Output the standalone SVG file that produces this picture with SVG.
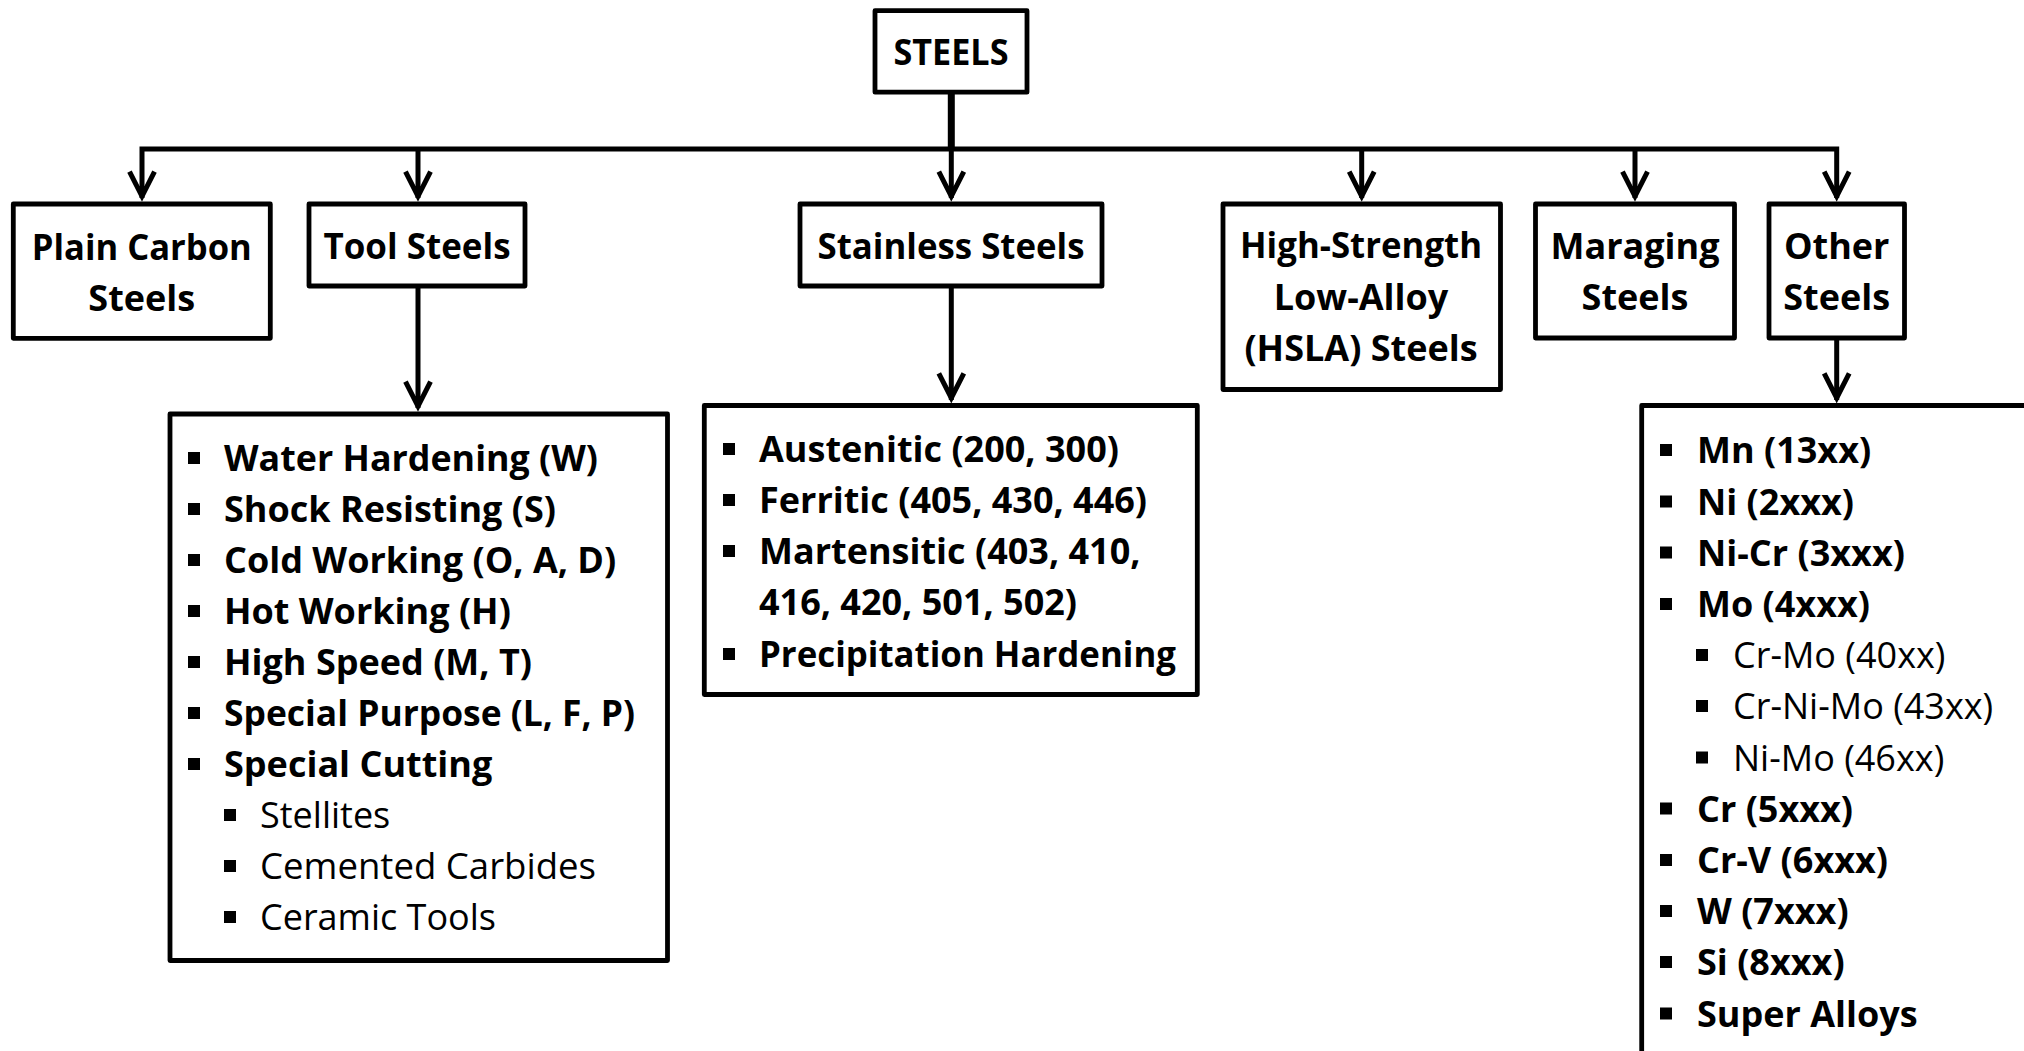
<svg xmlns="http://www.w3.org/2000/svg" xmlns:xlink="http://www.w3.org/1999/xlink" width="2024" height="1051" viewBox="0 0 2024 1051">
<style>
.box{fill:#fff;stroke:#000;stroke-width:4.8;stroke-linejoin:round}
.t{font-family:"Open Sans","Noto Sans","Liberation Sans",sans-serif;font-size:36px;fill:#000}
.b{font-weight:bold}
.r{font-weight:normal}
.c{text-anchor:middle}
.ln{stroke:#000;stroke-width:5;fill:none}
.bul{fill:#000}
</style>
<defs>
<g id="ah">
<path d="M-12.5,-30 L0,-5.4 L12.5,-30" fill="none" stroke="#000" stroke-width="5" stroke-linejoin="miter"/>
<path d="M0,-2 L-8,-19 L0,-14 L8,-19 Z" fill="#000"/>
</g>
<rect id="sq" width="12" height="12"/>
</defs>
<rect width="2024" height="1051" fill="#fff"/>

<g id="connectors">
<line x1="951.3" y1="92" x2="951.3" y2="149" stroke="#000" stroke-width="7"/>
<path class="ln" d="M142,198 V149 H1836.7 V198" stroke-width="5.5" stroke-linejoin="miter"/>
<line class="ln" x1="418" y1="149" x2="418" y2="198"/>
<line class="ln" x1="951.3" y1="149" x2="951.3" y2="198"/>
<line class="ln" x1="1361.7" y1="149" x2="1361.7" y2="198"/>
<line class="ln" x1="1635" y1="149" x2="1635" y2="198"/>
<use xlink:href="#ah" x="142" y="201.7"/>
<use xlink:href="#ah" x="418" y="201.7"/>
<use xlink:href="#ah" x="951.3" y="201.7"/>
<use xlink:href="#ah" x="1361.7" y="201.7"/>
<use xlink:href="#ah" x="1635" y="201.7"/>
<use xlink:href="#ah" x="1836.7" y="201.7"/>
<line class="ln" x1="418" y1="286" x2="418" y2="408"/>
<use xlink:href="#ah" x="418" y="411.7"/>
<line class="ln" x1="951.3" y1="286" x2="951.3" y2="400"/>
<use xlink:href="#ah" x="951.3" y="403.3"/>
<line class="ln" x1="1836.7" y1="338" x2="1836.7" y2="400"/>
<use xlink:href="#ah" x="1836.7" y="403.3"/>
</g>

<g id="steels">
<rect class="box" x="875" y="10.7" width="152" height="81.5"/>
<text class="t b c" x="951" y="65" textLength="115" lengthAdjust="spacingAndGlyphs">STEELS</text>
</g>

<g id="plain-carbon">
<rect class="box" x="13.3" y="204" width="257" height="134.3"/>
<text class="t b c" x="141.8" y="259.5" textLength="220" lengthAdjust="spacingAndGlyphs">Plain Carbon</text>
<text class="t b c" x="141.8" y="310.5">Steels</text>
</g>

<g id="tool-steels">
<rect class="box" x="309" y="204" width="216" height="82"/>
<text class="t b c" x="417" y="259" textLength="187" lengthAdjust="spacingAndGlyphs">Tool Steels</text>
</g>

<g id="stainless-steels">
<rect class="box" x="800" y="204" width="302" height="82"/>
<text class="t b c" x="951" y="258.5" textLength="267" lengthAdjust="spacingAndGlyphs">Stainless Steels</text>
</g>

<g id="hsla">
<rect class="box" x="1223" y="204" width="277.5" height="185.5"/>
<text class="t b c" x="1361" y="258.3" textLength="242" lengthAdjust="spacingAndGlyphs">High-Strength</text>
<text class="t b c" x="1361" y="309.5">Low-Alloy</text>
<text class="t b c" x="1361" y="360.7">(HSLA) Steels</text>
</g>

<g id="maraging">
<rect class="box" x="1535.5" y="204" width="199" height="134"/>
<text class="t b c" x="1635" y="258.5">Maraging</text>
<text class="t b c" x="1635" y="309.7">Steels</text>
</g>

<g id="other-steels">
<rect class="box" x="1769" y="204" width="135.5" height="134"/>
<text class="t b c" x="1836.7" y="258.5">Other</text>
<text class="t b c" x="1836.7" y="309.7">Steels</text>
</g>

<g id="tool-list">
<rect class="box" x="170" y="414" width="497.5" height="546.5"/>
<g class="bul">
<use xlink:href="#sq" x="188" y="452"/>
<use xlink:href="#sq" x="188" y="503"/>
<use xlink:href="#sq" x="188" y="554"/>
<use xlink:href="#sq" x="188" y="605"/>
<use xlink:href="#sq" x="188" y="656"/>
<use xlink:href="#sq" x="188" y="707"/>
<use xlink:href="#sq" x="188" y="758"/>
<use xlink:href="#sq" x="224" y="809"/>
<use xlink:href="#sq" x="224" y="860"/>
<use xlink:href="#sq" x="224" y="911"/>
</g>
<text class="t b" x="224" y="471" textLength="374" lengthAdjust="spacingAndGlyphs">Water Hardening (W)</text>
<text class="t b" x="224" y="522">Shock Resisting (S)</text>
<text class="t b" x="224" y="573">Cold Working (O, A, D)</text>
<text class="t b" x="224" y="624">Hot Working (H)</text>
<text class="t b" x="224" y="675">High Speed (M, T)</text>
<text class="t b" x="224" y="726" textLength="411" lengthAdjust="spacingAndGlyphs">Special Purpose (L, F, P)</text>
<text class="t b" x="224" y="777">Special Cutting</text>
<text class="t r" x="260" y="828">Stellites</text>
<text class="t r" x="260" y="879" textLength="336" lengthAdjust="spacingAndGlyphs">Cemented Carbides</text>
<text class="t r" x="260" y="930">Ceramic Tools</text>
</g>

<g id="stainless-list">
<rect class="box" x="704.3" y="405.5" width="493" height="289"/>
<g class="bul">
<use xlink:href="#sq" x="723" y="443"/>
<use xlink:href="#sq" x="723" y="494"/>
<use xlink:href="#sq" x="723" y="545"/>
<use xlink:href="#sq" x="723" y="648"/>
</g>
<text class="t b" x="759" y="461.7">Austenitic (200, 300)</text>
<text class="t b" x="759" y="512.9">Ferritic (405, 430, 446)</text>
<text class="t b" x="759" y="564.1">Martensitic (403, 410,</text>
<text class="t b" x="759" y="615.3">416, 420, 501, 502)</text>
<text class="t b" x="759" y="666.5" textLength="417" lengthAdjust="spacingAndGlyphs">Precipitation Hardening</text>
</g>

<g id="other-list">
<rect class="box" x="1641.7" y="405.5" width="500" height="700"/>
<g class="bul">
<use xlink:href="#sq" x="1660" y="444"/>
<use xlink:href="#sq" x="1660" y="495.5"/>
<use xlink:href="#sq" x="1660" y="546.5"/>
<use xlink:href="#sq" x="1660" y="598"/>
<use xlink:href="#sq" x="1696" y="649"/>
<use xlink:href="#sq" x="1696" y="700"/>
<use xlink:href="#sq" x="1696" y="751.5"/>
<use xlink:href="#sq" x="1660" y="802.5"/>
<use xlink:href="#sq" x="1660" y="854"/>
<use xlink:href="#sq" x="1660" y="905"/>
<use xlink:href="#sq" x="1660" y="956"/>
<use xlink:href="#sq" x="1660" y="1007.5"/>
</g>
<text class="t b" x="1697" y="463.3">Mn (13xx)</text>
<text class="t b" x="1697" y="514.5">Ni (2xxx)</text>
<text class="t b" x="1697" y="565.7">Ni-Cr (3xxx)</text>
<text class="t b" x="1697" y="616.9">Mo (4xxx)</text>
<text class="t r" x="1733" y="668.1">Cr-Mo (40xx)</text>
<text class="t r" x="1733" y="719.3">Cr-Ni-Mo (43xx)</text>
<text class="t r" x="1733" y="770.5">Ni-Mo (46xx)</text>
<text class="t b" x="1697" y="821.7">Cr (5xxx)</text>
<text class="t b" x="1697" y="872.9">Cr-V (6xxx)</text>
<text class="t b" x="1697" y="924.1">W (7xxx)</text>
<text class="t b" x="1697" y="975.3">Si (8xxx)</text>
<text class="t b" x="1697" y="1026.5">Super Alloys</text>
</g>
</svg>
